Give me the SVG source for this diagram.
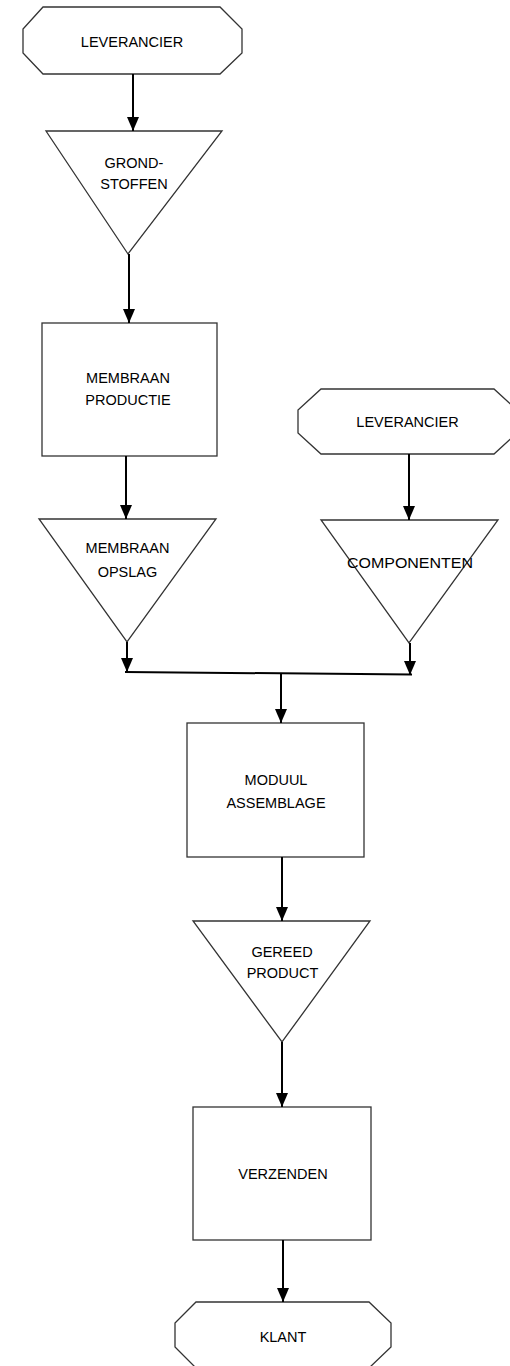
<svg xmlns="http://www.w3.org/2000/svg" width="510" height="1366" viewBox="0 0 510 1366">
<defs>
<style>
.shape{fill:#fff;stroke:#333;stroke-width:1.3}
.lbl{font-family:"Liberation Sans",Arial,sans-serif;font-size:14.5px;fill:#000;text-anchor:middle}
.con{stroke:#000;stroke-width:2;fill:none}
</style>
<marker id="arr" markerUnits="userSpaceOnUse" markerWidth="14" markerHeight="12" viewBox="0 0 14 12" refX="14" refY="6" orient="auto">
<path d="M0,0 L14,6 L0,12 Z" fill="#000"/>
</marker>
</defs>
<rect width="510" height="1366" fill="#fff"/>
<g id="leverancier1">
<polygon class="shape" points="43,7 220,7 242,29 242,53 220,74 43,74 23,53 23,29"/>
<text class="lbl" x="132" y="47">LEVERANCIER</text>
</g>
<g id="grondstoffen">
<polygon class="shape" points="46,131 222,131 128,254"/>
<text class="lbl" x="134" y="168">GROND-</text>
<text class="lbl" x="134" y="189">STOFFEN</text>
</g>
<g id="membraan-productie">
<rect class="shape" x="42" y="323" width="175" height="133"/>
<text class="lbl" x="128" y="383">MEMBRAAN</text>
<text class="lbl" x="128" y="405">PRODUCTIE</text>
</g>
<g id="membraan-opslag">
<polygon class="shape" points="39,519 216,519 127,642"/>
<text class="lbl" x="127.5" y="553">MEMBRAAN</text>
<text class="lbl" x="127.5" y="577">OPSLAG</text>
</g>
<g id="leverancier2">
<polygon class="shape" points="321,389 494,389 517,410 517,433 494,454 321,454 298,433 298,410"/>
<text class="lbl" x="407.5" y="427">LEVERANCIER</text>
</g>
<g id="componenten">
<polygon class="shape" points="321,520 498,520 409,643"/>
<text class="lbl" x="410" y="568" textLength="126" lengthAdjust="spacingAndGlyphs">COMPONENTEN</text>
</g>
<g id="moduul-assemblage">
<rect class="shape" x="187" y="723" width="177" height="134"/>
<text class="lbl" x="276" y="785">MODUUL</text>
<text class="lbl" x="276" y="808">ASSEMBLAGE</text>
</g>
<g id="gereed-product">
<polygon class="shape" points="193,921 370,921 282,1042"/>
<text class="lbl" x="282" y="957">GEREED</text>
<text class="lbl" x="282.5" y="978">PRODUCT</text>
</g>
<g id="verzenden">
<rect class="shape" x="193" y="1107" width="178" height="133"/>
<text class="lbl" x="283" y="1179">VERZENDEN</text>
</g>
<g id="klant">
<polygon class="shape" points="196,1302 369,1302 391,1323 391,1347 369,1368 196,1368 175,1347 175,1323"/>
<text class="lbl" x="283" y="1342">KLANT</text>
</g>
<g id="connectors">
<path class="con" d="M133,74 V131" marker-end="url(#arr)"/>
<path class="con" d="M129,254 V323" marker-end="url(#arr)"/>
<path class="con" d="M126,456 V519" marker-end="url(#arr)"/>
<path class="con" d="M127,642 V672" marker-end="url(#arr)"/>
<path class="con" d="M409,454 V520" marker-end="url(#arr)"/>
<path class="con" d="M410,643 V675" marker-end="url(#arr)"/>
<path class="con" d="M125,672 L412,674.5"/>
<path class="con" d="M281,673.5 V723" marker-end="url(#arr)"/>
<path class="con" d="M282,857 V921" marker-end="url(#arr)"/>
<path class="con" d="M282,1042 V1107" marker-end="url(#arr)"/>
<path class="con" d="M283,1240 V1302" marker-end="url(#arr)"/>
</g>
</svg>
